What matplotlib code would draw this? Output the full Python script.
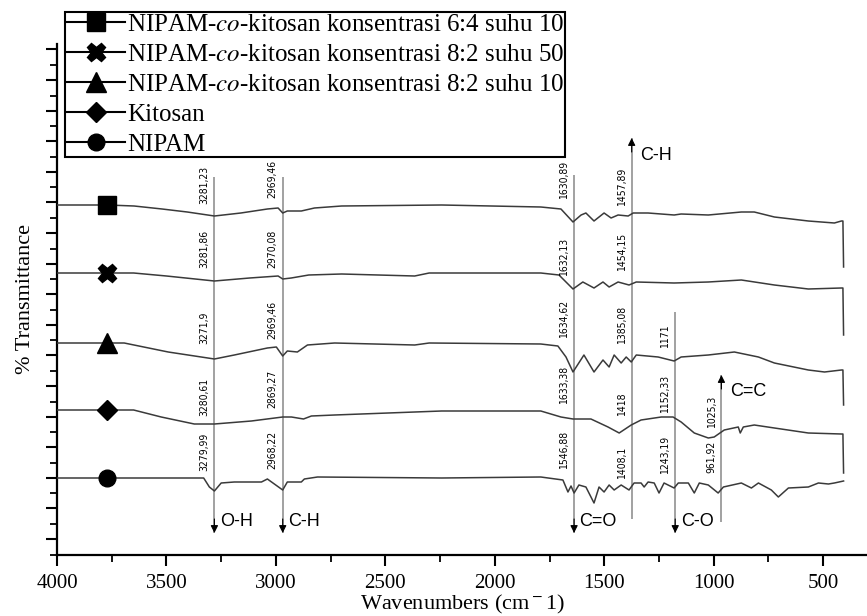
import numpy as np
import matplotlib
matplotlib.use('Agg')
import matplotlib.pyplot as plt
from matplotlib.lines import Line2D
from matplotlib.ticker import FixedLocator, MultipleLocator
from matplotlib import font_manager

plt.rcParams['font.family'] = ['Liberation Serif', 'DejaVu Serif']
plt.rcParams['mathtext.fontset'] = 'stix'

# spectra (wavenumber, stacked transmittance height)
wn_64_10 = [4000, 3770, 3648, 3520, 3405, 3281, 3160, 3039, 2990, 2969, 2948, 2884, 2824, 2700, 2243,
            1790, 1698, 1643, 1606, 1584, 1547, 1501, 1469, 1437, 1391, 1368, 1300, 1181, 1149, 1025,
            874, 815, 723, 568, 449, 417, 410, 407]
t_64_10 = [350, 350, 349, 346, 343, 339, 342, 346, 347, 342, 344, 344, 347, 349, 350,
           348, 346, 333, 340, 342, 334, 342, 337, 340, 339, 342, 342, 340, 341, 340,
           343, 343, 338, 334, 332, 334, 334, 288]

wn_82_50 = [4000, 3770, 3650, 3500, 3281, 3120, 2990, 2969, 2930, 2850, 2700, 2366, 2300, 1790, 1707,
            1643, 1598, 1547, 1506, 1478, 1437, 1387, 1354, 1181, 1025, 874, 723, 568, 417, 410, 407]
t_82_50 = [282, 282, 282, 279, 274, 277, 279, 276, 277, 280, 281, 279, 282, 282, 280,
           266, 273, 267, 273, 268, 273, 270, 273, 272, 273, 275, 270, 266, 267, 267, 220]

wn_82_10 = [4000, 3770, 3693, 3492, 3281, 3190, 3039, 2998, 2969, 2948, 2902, 2856, 2732, 2366, 2300,
            1790, 1712, 1675, 1643, 1593, 1547, 1506, 1478, 1455, 1423, 1400, 1377, 1354, 1254, 1181,
            1149, 1025, 906, 796, 723, 568, 494, 417, 410, 407]
t_82_10 = [212, 212, 212, 203, 196, 200, 207, 208, 199, 204, 203, 210, 212, 210, 212,
           211, 209, 198, 183, 200, 183, 195, 188, 200, 192, 198, 193, 200, 198, 194,
           198, 200, 203, 198, 192, 185, 183, 185, 185, 150]

wn_kitosan = [4000, 3770, 3650, 3524, 3373, 3281, 3112, 2969, 2929, 2874, 2838, 2732, 2243, 1790, 1698,
              1643, 1561, 1483, 1432, 1377, 1332, 1240, 1186, 1149, 1089, 1025, 998, 952, 888, 879,
              865, 815, 723, 568, 417, 410, 407]
t_kitosan = [145, 145, 145, 138, 131, 131, 134, 138, 138, 136, 139, 140, 144, 144, 138,
             136, 136, 128, 122, 130, 135, 138, 138, 133, 122, 117, 118, 125, 128, 122,
             128, 130, 127, 122, 121, 121, 82]

wn_nipam = [4000, 3770, 3330, 3304, 3281, 3250, 3190, 3066, 3039, 2969, 2948, 2884, 2870, 2810, 2243,
            1790, 1689, 1666, 1652, 1638, 1616, 1584, 1547, 1524, 1501, 1478, 1455, 1423, 1387, 1364,
            1332, 1318, 1300, 1272, 1250, 1227, 1181, 1162, 1116, 1089, 1066, 1025, 980, 956, 874,
            828, 796, 737, 705, 659, 568, 522, 476, 449, 407]
t_nipam = [77, 77, 77, 68, 64, 72, 73, 73, 76, 65, 73, 73, 76, 78, 77,
           78, 75, 63, 69, 62, 70, 68, 52, 68, 63, 70, 65, 70, 65, 72,
           72, 68, 73, 72, 62, 72, 67, 72, 72, 62, 72, 70, 62, 68, 72,
           67, 72, 65, 58, 67, 68, 72, 71, 72, 74]

names = ['NIPAM-$\\it{co}$-kitosan konsentrasi 6:4 suhu 10',
         'NIPAM-$\\it{co}$-kitosan konsentrasi 8:2 suhu 50',
         'NIPAM-$\\it{co}$-kitosan konsentrasi 8:2 suhu 10',
         'Kitosan',
         'NIPAM']
wns = [wn_64_10, wn_82_50, wn_82_10, wn_kitosan, wn_nipam]
ts = [t_64_10, t_82_50, t_82_10, t_kitosan, t_nipam]
markers = ['s', 'X', '^', 'D', 'o']
msizes = [13, 13, 14, 10, 12]

# peak labels per trace: (text, band line it sits beside)
peaks = [
    [('3281,23', 3281), ('2969,46', 2969), ('1630,89', 1638), ('1457,89', 1375)],
    [('3281,86', 3281), ('2970,08', 2969), ('1632,13', 1638), ('1454,15', 1375)],
    [('3271,9', 3281), ('2969,46', 2969), ('1634,62', 1638), ('1385,08', 1375), ('1171', 1176)],
    [('3280,61', 3281), ('2869,27', 2969), ('1633,38', 1638), ('1418', 1375), ('1152,33', 1176), ('1025,3', 965)],
    [('3279,99', 3281), ('2968,22', 2969), ('1546,88', 1638), ('1408,1', 1375), ('1243,19', 1176), ('961,92', 965)],
]
peak_dy = [[-3, 3, 2, -5], [1, 1, -7, -2], [-5, 0, 1, -5, -9],
           [-10, -2, 2, -10, -7, -22], [3, 5, 5, -5, 0, 1]]

# assignment bands
band_wn = [3281, 2969, 1638, 1375, 1176, 965]
band_name = ['O-H', 'C-H', 'C=O', 'C-H', 'C-O', 'C=C']
band_up = [False, False, False, True, False, True]
band_top = [378, 378, 380, 417, 243, 180]
band_bot = [22, 22, 22, 36, 22, 33]

fonts = font_manager.fontManager.ttflist
if any(f.name == 'Liberation Sans Narrow' for f in fonts):
    pk_font = dict(family='Liberation Sans Narrow', size=8.5)
elif any(f.name == 'DejaVu Sans' and f.stretch == 'condensed' for f in fonts):
    pk_font = dict(family='DejaVu Sans', stretch='condensed', size=7.5)
else:
    pk_font = dict(family='Liberation Sans', size=7)

fig = plt.figure(figsize=(8.67, 6.16), dpi=100)
ax = fig.add_axes([57/867, 61/616, 810/867, 511/616])

for wn, t, m, ms in zip(wns, ts, markers, msizes):
    ax.plot(wn, t, color='#3a3a3a', lw=1.1, zorder=3)
    i = wn.index(3770)
    ax.plot(wn, t, ls='none', marker=m, ms=ms, color='black', markevery=[i], zorder=4)

# band lines and arrows
for w, nm, up, top, bot in zip(band_wn, band_name, band_up, band_top, band_bot):
    ax.vlines(w, bot, top, color='#9a9a9a', lw=1.3, zorder=2)
    tip = top if up else bot
    ax.annotate('', xy=(w, tip), xytext=(w, tip - 14 if up else tip + 14),
                arrowprops=dict(arrowstyle='-|>', color='black', lw=0.8,
                                mutation_scale=11, shrinkA=0, shrinkB=0), zorder=5)
    if up:
        ax.text(w - 40, tip - 17, nm, family='Liberation Sans', fontsize=13, va='center', ha='left')
    else:
        ax.text(w - 25, tip + 12, nm, family='Liberation Sans', fontsize=13, va='center', ha='left')

for k, (plist, dys) in enumerate(zip(peaks, peak_dy)):
    base = ts[k][0]
    for (txt, w), dy in zip(plist, dys):
        ax.text(w + 45, base + dy + 4, txt, rotation=90, ha='center', va='bottom', **pk_font)

ax.set_xlim(4000, 300)
ax.set_ylim(0, 511)
ax.xaxis.set_major_locator(FixedLocator(np.arange(4000, 400, -500)))
ax.xaxis.set_minor_locator(MultipleLocator(250))
ax.yaxis.set_major_locator(FixedLocator(np.arange(16, 511, 30.6)))
ax.yaxis.set_minor_locator(FixedLocator(np.arange(0.5, 511, 30.6)))
ax.set_yticklabels([])
for s in ['top', 'right']:
    ax.spines[s].set_visible(False)
for s in ['left', 'bottom']:
    ax.spines[s].set_linewidth(1.6)
ax.tick_params(which='major', direction='out', length=8, width=1.5, labelsize=15, pad=6)
ax.tick_params(which='minor', direction='out', length=5, width=1.3)
ax.set_xlabel('Wavenumbers (cm$^{\\rm -}$1)', fontsize=16, labelpad=0)
ax.set_ylabel('% Transmittance', fontsize=16, labelpad=2)

handles = [Line2D([], [], color='black', lw=1.5, marker=m, ms=ms) for m, ms in zip(markers, msizes)]
leg = fig.legend(handles, names, loc='upper left', bbox_to_anchor=(65/867, 1 - 12/616),
                 fontsize=18, frameon=True, fancybox=False, edgecolor='black', framealpha=1,
                 borderpad=0.05, handlelength=2.35, handletextpad=0.08, labelspacing=0.3,
                 borderaxespad=0)
leg.get_frame().set_linewidth(1.5)

fig.savefig('out.png', dpi=100)
